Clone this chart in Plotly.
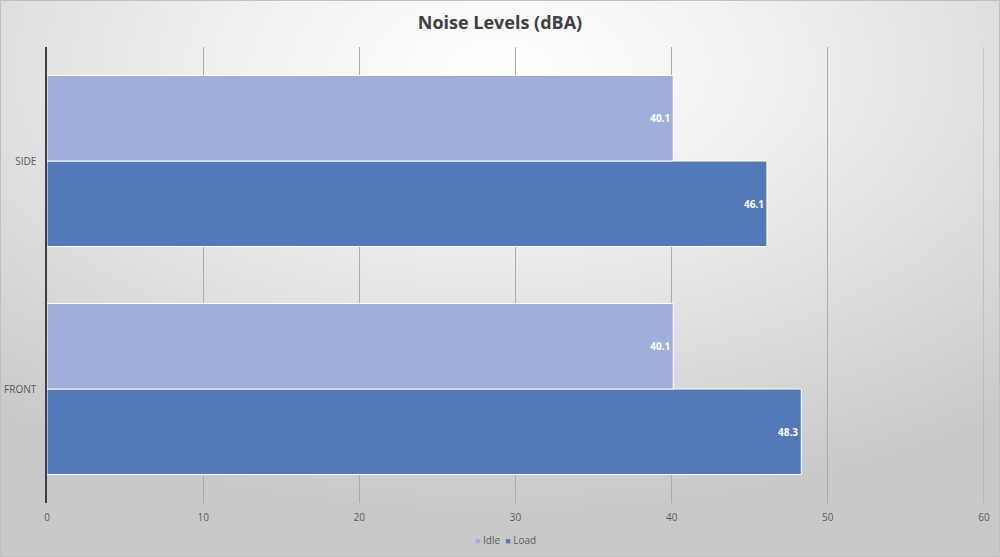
import base64
import plotly.graph_objects as go

categories = ["FRONT", "SIDE"]
idle = [40.1, 40.1]
load = [48.3, 46.1]
x_ticks = [0, 10, 20, 30, 40, 50, 60]
series_names = ["Idle", "Load"]

W, H = 1000, 557
ml, mr, mt, mb = 47, 16, 47, 54
pw, ph = W - ml - mr, H - mt - mb

IDLE_C = "#A0AFDA"
LOAD_C = "#5479B9"
GRID_C = "#ababab"

svg = (
    "<svg xmlns='http://www.w3.org/2000/svg' width='1000' height='557' preserveAspectRatio='none'>"
    "<defs><radialGradient id='g' cx='50%' cy='12%' r='80%'>"
    "<stop offset='0' stop-color='#ffffff'/>"
    "<stop offset='0.35' stop-color='#f0f0f0'/>"
    "<stop offset='1' stop-color='#c9c9c9'/>"
    "</radialGradient></defs>"
    "<rect width='1000' height='557' fill='url(#g)'/></svg>"
)
bg = "data:image/svg+xml;base64," + base64.b64encode(svg.encode()).decode()

fig = go.Figure()
fig.add_trace(go.Bar(
    y=categories, x=load, name=series_names[1], orientation="h",
    marker=dict(color=LOAD_C, line=dict(color="#ffffff", width=1)),
    text=[f"<b>{v:.1f}</b>" for v in load], textposition="inside", insidetextanchor="end",
    textfont=dict(color="#ffffff", size=10, family="Open Sans"),
))
fig.add_trace(go.Bar(
    y=categories, x=idle, name=series_names[0], orientation="h",
    marker=dict(color=IDLE_C, line=dict(color="#ffffff", width=1)),
    text=[f"<b>{v:.1f}</b>" for v in idle], textposition="inside", insidetextanchor="end",
    textfont=dict(color="#ffffff", size=10, family="Open Sans"),
))

legend_text = "&nbsp;&nbsp;".join(
    f"<span style='color:{c}; font-size:9px'>■</span>&nbsp;{n}"
    for n, c in zip(series_names, [IDLE_C, LOAD_C])
)

fig.update_layout(
    width=W, height=H,
    margin=dict(l=ml, r=mr, t=mt, b=mb, autoexpand=False),
    paper_bgcolor="#d9d9d9",
    plot_bgcolor="rgba(0,0,0,0)",
    barmode="group", bargap=0.25, bargroupgap=0,
    title=dict(text="<b>Noise Levels (dBA)</b>", x=0.5, xref="container", y=0.96, yanchor="middle",
               font=dict(family="Open Sans", size=18, color="#404040")),
    font=dict(family="Open Sans", size=10, color="#595959"),
    showlegend=False,
    xaxis=dict(range=[0, 60], tickvals=x_ticks, showgrid=True, gridcolor=GRID_C, gridwidth=1,
               zeroline=False, showline=False, ticks="", automargin=False,
               tickfont=dict(size=10, color="#595959"), ticklabelstandoff=7),
    yaxis=dict(showline=True, linecolor="#404040", linewidth=1.5, ticks="", showgrid=False, automargin=False,
               tickfont=dict(size=10, color="#595959"), ticklabelstandoff=7),
    images=[dict(source=bg, xref="paper", yref="paper",
                 x=-ml / pw, y=1 + mt / ph, sizex=W / pw, sizey=H / ph,
                 xanchor="left", yanchor="top", sizing="stretch", layer="below")],
    annotations=[dict(text=legend_text, xref="paper", yref="paper",
                      x=(505 - ml) / pw, y=-(540 - (H - mb)) / ph,
                      xanchor="center", yanchor="middle", showarrow=False,
                      font=dict(size=10, color="#595959", family="Open Sans"))],
)
# last gridline at the axis end (plotly omits it at the edge)
fig.add_shape(type="line", xref="x", yref="paper", x0=x_ticks[-1], x1=x_ticks[-1], y0=0, y1=1,
              line=dict(color=GRID_C, width=1), layer="below")
fig.add_shape(type="rect", xref="paper", yref="paper",
              x0=-ml / pw + 0.0005, x1=1 + mr / pw - 0.0005, y0=-mb / ph + 0.001, y1=1 + mt / ph - 0.001,
              line=dict(color="#bfbfbf", width=1), fillcolor="rgba(0,0,0,0)", layer="above")

fig.write_html("out.html")
